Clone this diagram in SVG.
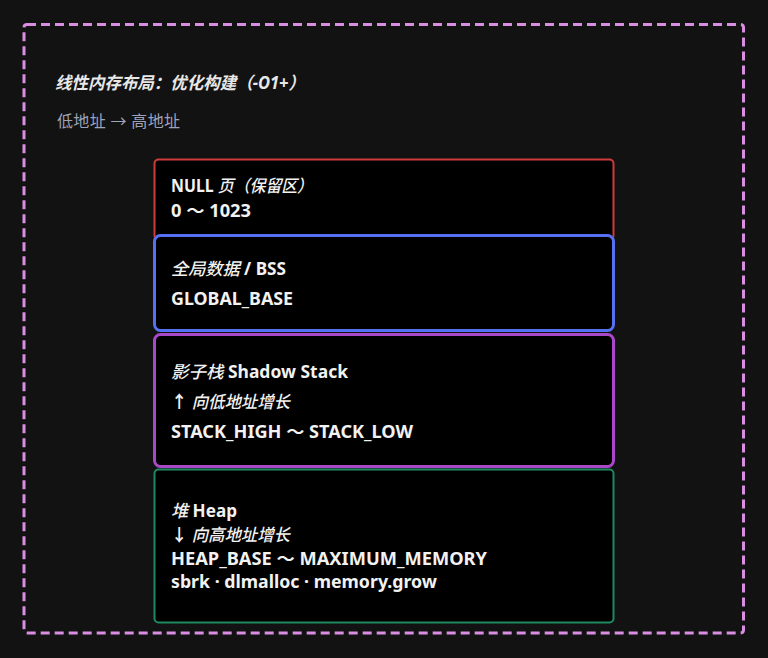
<svg xmlns="http://www.w3.org/2000/svg" width="768" height="658" viewBox="0 0 768 658">
  <style>
    text { font-family: "Noto Sans", "Noto Sans CJK SC", sans-serif; }
    .t { font-size: 17px; font-weight: 700; fill: #f2f2f2; }
    .cjk { font-style: italic; font-weight: 500; }
    .title { font-size: 17px; font-weight: 700; font-style: italic; fill: #e8e8e8; }
    .sub { font-size: 16px; fill: #9ea3ba; }
    .box { fill: #000; }
  </style>
  <rect x="0" y="0" width="768" height="658" fill="#121212"/>
  <rect id="frame" x="24" y="24.5" width="719.5" height="608.5" rx="3" fill="none" stroke="#d98ee2" stroke-width="3" stroke-dasharray="9 5"/>
  <g id="header">
    <text class="title" x="55" y="89" textLength="250" lengthAdjust="spacingAndGlyphs">线性内存布局：优化构建（-O1+）</text>
    <text class="sub" x="57" y="127" textLength="123" lengthAdjust="spacing">低地址 → 高地址</text>
  </g>
  <g id="null-page">
    <rect class="box" x="154.5" y="159.5" width="459" height="80" rx="4" stroke="#cf3b3b" stroke-width="2"/>
    <text class="t" x="171" y="192" textLength="142" lengthAdjust="spacingAndGlyphs">NULL <tspan class="cjk">页（保留区）</tspan></text>
    <text class="t" x="171" y="217" textLength="80" lengthAdjust="spacingAndGlyphs">0 ～ 1023</text>
  </g>
  <g id="global-data">
    <rect class="box" x="154.5" y="235.5" width="459" height="95" rx="6" stroke="#5571f2" stroke-width="3"/>
    <text class="t" x="171" y="275" textLength="115" lengthAdjust="spacingAndGlyphs"><tspan class="cjk">全局数据</tspan> / BSS</text>
    <text class="t" x="171" y="305" textLength="122" lengthAdjust="spacingAndGlyphs">GLOBAL_BASE</text>
  </g>
  <g id="shadow-stack">
    <rect class="box" x="154.5" y="334.5" width="459" height="132" rx="6" stroke="#a947c9" stroke-width="3"/>
    <text class="t" x="171" y="378" textLength="177" lengthAdjust="spacingAndGlyphs"><tspan class="cjk">影子栈</tspan> Shadow Stack</text>
    <text class="t" x="171" y="408" textLength="119" lengthAdjust="spacingAndGlyphs">↑ <tspan class="cjk">向低地址增长</tspan></text>
    <text class="t" x="171" y="438" textLength="242" lengthAdjust="spacingAndGlyphs">STACK_HIGH ～ STACK_LOW</text>
  </g>
  <g id="heap">
    <rect class="box" x="154.5" y="469.5" width="459" height="153" rx="4" stroke="#1d8a62" stroke-width="2"/>
    <text class="t" x="171" y="517" textLength="66" lengthAdjust="spacingAndGlyphs"><tspan class="cjk">堆</tspan> Heap</text>
    <text class="t" x="171" y="541" textLength="119" lengthAdjust="spacingAndGlyphs">↓ <tspan class="cjk">向高地址增长</tspan></text>
    <text class="t" x="171" y="565" textLength="316" lengthAdjust="spacingAndGlyphs">HEAP_BASE ～ MAXIMUM_MEMORY</text>
    <text class="t" x="171" y="588" textLength="266" lengthAdjust="spacingAndGlyphs">sbrk · dlmalloc · memory.grow</text>
  </g>
  <g id="connectors"></g>
</svg>
